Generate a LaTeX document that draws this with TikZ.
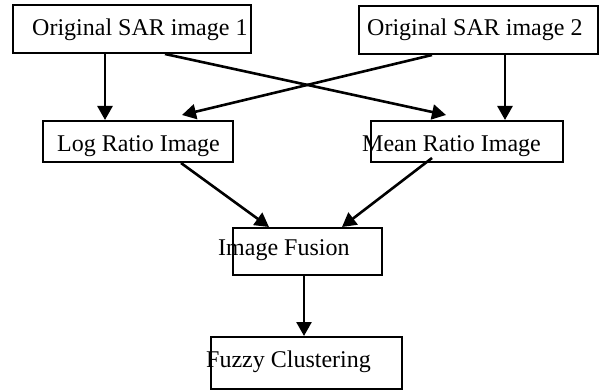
\documentclass[tikz,border=0pt]{standalone}
\usepackage{fontspec}
\setmainfont{Liberation Serif}
\usetikzlibrary{arrows.meta}
\begin{document}
\begin{tikzpicture}[x=1pt,y=-1pt,
  box/.style={draw,line width=2pt,inner sep=0pt,minimum width=#1},
  lbl/.style={anchor=base west,inner sep=0pt,font=\fontsize{24}{28}\selectfont},
  arr/.style={line width=2.6pt,-{Triangle[length=14pt,width=15pt]}}]
\useasboundingbox (0,0) rectangle (600,390);
% boxes
\node[box=238pt,minimum height=48pt] (b1) at (132,29) {};
\node[box=239pt,minimum height=48pt] (b2) at (478.5,30) {};
\node[box=190pt,minimum height=41pt] (lr) at (138,141.5) {};
\node[box=192pt,minimum height=41pt] (mr) at (467,141.5) {};
\node[box=149pt,minimum height=47pt] (fu) at (307.5,251.5) {};
\node[box=191pt,minimum height=52pt] (fc) at (306.5,363) {};
% texts
\node[lbl] (t1) at (32,36) {Original SAR image 1};
\node[lbl] (t2) at (367,36) {Original SAR image 2};
\node[lbl] (t3) at (57,152) {Log Ratio Image};
\node[lbl] (t4) at (362,152) {Mean Ratio Image};
\node[lbl] (t5) at (218,256) {Image Fusion};
\node[lbl] (t6) at (206,367) {Fuzzy Clustering};
% arrows
\draw[arr] ([xshift=93pt]b1.south west) -- ([xshift=63pt]lr.north west);
\draw[arr] ([xshift=153pt]b1.south west) -- ([xshift=76pt,yshift=5pt]mr.north west);
\draw[arr] ([xshift=74pt]b2.south west) -- ([xshift=140pt,yshift=5pt]lr.north west);
\draw[arr] ([xshift=147pt]b2.south west) -- ([xshift=135pt]mr.north west);
\draw[arr] ([xshift=139pt]lr.south west) -- ([xshift=37pt]fu.north west);
\draw[arr] ([xshift=62pt,yshift=5pt]mr.south west) -- ([xshift=110pt]fu.north west);
\draw[arr] ([xshift=72pt]fu.south west) -- ([xshift=94pt]fc.north west);
\end{tikzpicture}
\end{document}
